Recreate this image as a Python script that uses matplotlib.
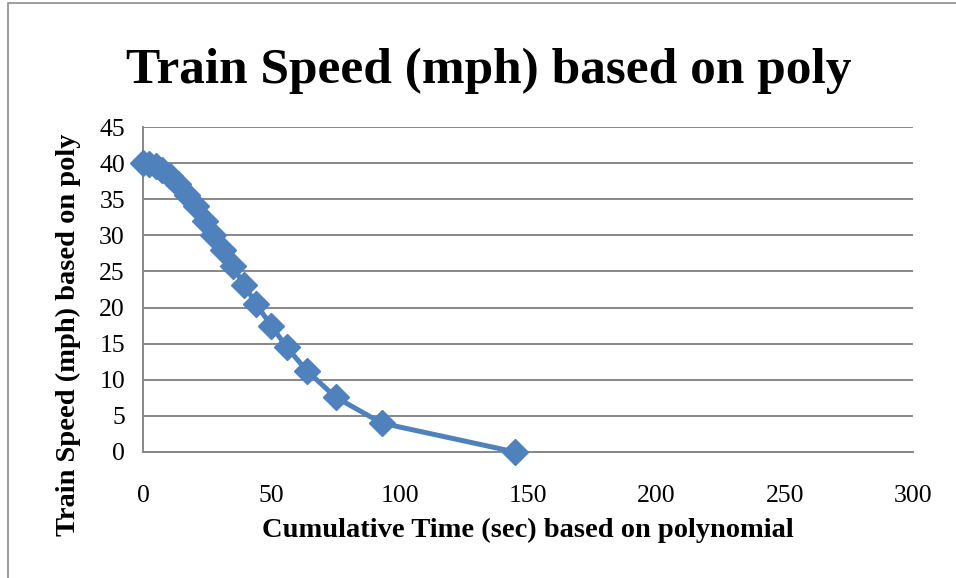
import matplotlib.pyplot as plt
from matplotlib.patches import Rectangle

# cumulative time (sec) and speed (mph)
cumulative_time = [0, 2.5, 5, 7.5, 10.5, 13.5, 17, 20.6, 24, 27.3, 31, 35,
                   39.5, 44, 50, 56, 64, 75, 93, 145]
train_speed = [40, 39.9, 39.6, 39.1, 38.2, 37.1, 35.6, 34.0, 32.0, 30.0,
               28.0, 25.7, 23.1, 20.5, 17.5, 14.5, 11.2, 7.6, 4.0, 0]

BLUE = '#4F81BD'
GRID = '#878787'
SERIF = ['Liberation Serif', 'DejaVu Serif']

fig = plt.figure(figsize=(9.56, 5.78), dpi=100)

# outer chart frame (only left/top edges visible in the crop)
fig.patches.append(Rectangle((8 / 956, -0.05), 1.2, 1 - 3 / 578 + 0.05,
                             transform=fig.transFigure, fill=False,
                             edgecolor='#8c8c8c', linewidth=1.2))

ax = fig.add_axes([143 / 956, 1 - 452 / 578, 770 / 956, 325 / 578])

ax.plot(cumulative_time, train_speed, color=BLUE, linewidth=3.6,
        marker='D', markersize=13, markerfacecolor=BLUE,
        markeredgecolor=BLUE, clip_on=False, zorder=3)

ax.set_xlim(0, 300)
ax.set_ylim(0, 45)
ax.set_xticks(range(0, 301, 50))
ax.set_yticks(range(0, 46, 5))
ax.yaxis.grid(True, color=GRID, linewidth=1.4)
ax.set_axisbelow(True)

for side in ['top', 'right']:
    ax.spines[side].set_visible(False)
for side in ['left', 'bottom']:
    ax.spines[side].set_color(GRID)
    ax.spines[side].set_linewidth(1.4)

ax.tick_params(length=0, labelsize=18.5)
ax.tick_params(axis='x', pad=24)
ax.tick_params(axis='y', pad=13)
for lab in ax.get_xticklabels() + ax.get_yticklabels():
    lab.set_family(SERIF)

ax.set_xlabel('Cumulative Time (sec) based on polynomial', family=SERIF,
              fontsize=20.5, fontweight='bold')
ax.set_ylabel('Train Speed (mph) based on poly', family=SERIF,
              fontsize=20.5, fontweight='bold')
ax.xaxis.set_label_coords(0.5, -0.204)
ax.yaxis.set_label_coords(-0.08, 0.36)

fig.text(0.511, 1 - 83 / 578, 'Train Speed (mph) based on poly', family=SERIF,
         fontsize=37, fontweight='bold', ha='center', va='baseline')

fig.savefig('out.png', dpi=100)
